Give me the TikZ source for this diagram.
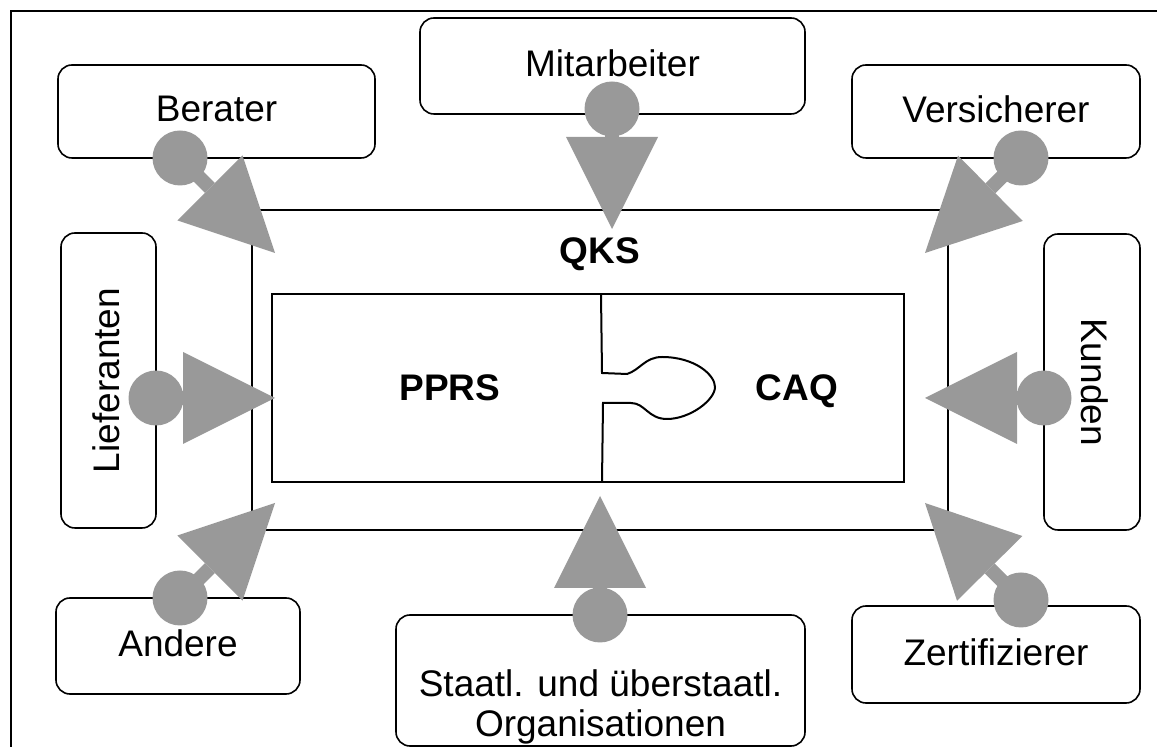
\documentclass[tikz,border=0pt]{standalone}
\usepackage{fontspec}
\setmainfont{Liberation Sans}
\usetikzlibrary{arrows.meta}

\definecolor{pingray}{RGB}{153,153,153}

\tikzset{
  party/.style={draw, rounded corners=7pt, line width=0.8pt, inner sep=0pt,
    align=center, text depth=0.25em, font=\fontsize{18.5}{20}\selectfont},
  tag/.style={text depth=0pt, font=\fontsize{18.5}{20}\selectfont\bfseries},
  pin/.style={color=pingray, line width=7pt,
    -{Triangle[length=46pt,width=46pt,line width=0pt]}}
}

\begin{document}
\begin{tikzpicture}[x=0.5pt,y=-0.5pt]
  \useasboundingbox (0,0) rectangle (1157,747);
  % frame
  \draw[line width=1pt] (11,747) -- (11,11) -- (1157,11);

  % QKS with the two puzzle halves
  \node[draw,line width=1pt,minimum width=348pt,minimum height=160pt] (qks) at (600,370) {};
  \node[tag] (qks-name) at (600,251) {QKS};
  \node[draw,line width=1pt,minimum width=316pt,minimum height=94pt] (core) at (588,388) {};
  \draw[line width=1pt] (601,294) -- (602,373) -- (627,374)
    .. controls (640,370) and (645,357) .. (662,357)
    .. controls (695,357) and (715,375) .. (715,387)
    .. controls (715,400) and (690,419) .. (667,419)
    .. controls (648,419) and (645,403) .. (631,403)
    -- (603,403) -- (602,482);
  \node[tag] (pprs) at (450,388) {PPRS};
  \node[tag] (caq) at (797,388) {CAQ};

  % the parties around
  \node[party,minimum width=158.5pt,minimum height=46.5pt] (berater) at (216.5,111.5) {Berater};
  \node[party,minimum width=192.5pt,minimum height=48pt] (mitarbeiter) at (612.5,66) {Mitarbeiter};
  \node[party,minimum width=144pt,minimum height=46.5pt] (versicherer) at (996,111.5) {Versicherer};
  \node[party,rotate=90,minimum width=147.5pt,minimum height=47.5pt] (lieferanten) at (108.5,380.5) {Lieferanten};
  \node[party,rotate=-90,minimum width=148pt,minimum height=48pt] (kunden) at (1092,382) {Kunden};
  \node[party,minimum width=122pt,minimum height=48pt] (andere) at (178,646) {Andere};
  \node[party,minimum width=204.5pt,minimum height=65.5pt] (staat) at (600.5,680.5) {};
  \node[party,draw=none] (staat-name) at (600.5,706) {Staatl. und überstaatl.\\Organisationen};
  \node[party,minimum width=144pt,minimum height=48.5pt] (zertifizierer) at (996,654.5) {Zertifizierer};

  % pin heads and tips
  \coordinate (berater-pin) at (180,158);
  \coordinate (mitarbeiter-pin) at (612,109);
  \coordinate (versicherer-pin) at (1021,158);
  \coordinate (lieferanten-pin) at (156,398);
  \coordinate (kunden-pin) at (1044,398);
  \coordinate (andere-pin) at (180,598);
  \coordinate (staat-pin) at (600,615);
  \coordinate (zertifizierer-pin) at (1021,600);
  \coordinate (tip-nw) at (275,253);
  \coordinate (tip-n) at (612,229);
  \coordinate (tip-ne) at (925,253);
  \coordinate (tip-w) at (275,398);
  \coordinate (tip-e) at (925,398);
  \coordinate (tip-sw) at (275,503);
  \coordinate (tip-s) at (600,496);
  \coordinate (tip-se) at (925,503);

  \foreach \src/\dst in {berater/nw,mitarbeiter/n,versicherer/ne,lieferanten/w,
      kunden/e,andere/sw,staat/s,zertifizierer/se}{
    \fill[pingray] (\src-pin) circle[radius=13.75pt];
    \draw[pin] (\src-pin) -- (tip-\dst);
  }
\end{tikzpicture}
\end{document}
